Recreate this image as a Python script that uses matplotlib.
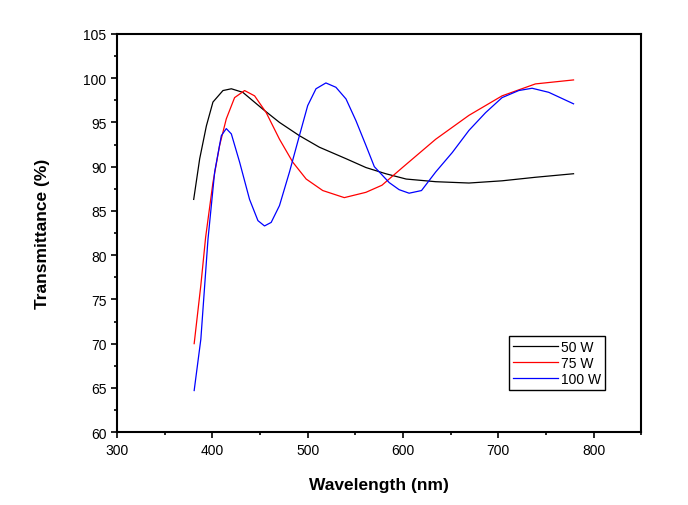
import matplotlib
matplotlib.use("Agg")
import matplotlib.pyplot as plt
from matplotlib.ticker import MultipleLocator

plt.rcParams['font.family'] = ['Liberation Sans', 'DejaVu Sans']

wl_50 = [380.5, 386.8, 393.8, 400.7, 411.2, 420, 432, 453, 470.5, 491.4, 512.3, 540.3, 561.2, 582, 603.4, 634.4, 669.3, 704, 739, 779]
tr_50 = [86.3, 90.9, 94.6, 97.3, 98.6, 98.8, 98.4, 96.5, 95.0, 93.5, 92.2, 90.9, 89.9, 89.2, 88.6, 88.3, 88.15, 88.4, 88.8, 89.2]

wl_75 = [381, 388, 393, 400.7, 407.7, 414.7, 423.4, 433.9, 444.4, 456.6, 470.5, 484.5, 498.5, 515.9, 538.5, 561.2, 578, 599.5, 634.4, 669.3, 704, 739, 779]
tr_75 = [70.0, 76.6, 82.0, 88.2, 92.4, 95.4, 97.8, 98.6, 98.0, 96.1, 93.1, 90.5, 88.6, 87.3, 86.5, 87.1, 87.9, 89.9, 93.1, 95.8, 98.0, 99.35, 99.8]

wl_100 = [381, 388, 395.5, 402.5, 409.5, 414.7, 420, 428.7, 439.1, 447.9, 454.8, 461.8, 470.5, 481, 491.4, 500.1, 508.8, 519.2, 529.7, 540.3, 550.7, 561.2, 570, 585.6, 596, 606.5, 619.5, 634.4, 651.8, 669.3, 686.7, 704, 721.5, 735.5, 753, 779]
tr_100 = [64.7, 70.5, 81.8, 89.4, 93.5, 94.3, 93.7, 90.5, 86.3, 83.9, 83.3, 83.7, 85.6, 89.4, 93.5, 96.9, 98.8, 99.46, 98.97, 97.65, 95.2, 92.4, 90.0, 88.2, 87.4, 87.0, 87.3, 89.4, 91.6, 94.1, 96.1, 97.8, 98.6, 98.86, 98.4, 97.1]

labels = ['50 W', '75 W', '100 W']
colors = ['black', 'red', 'blue']

fig = plt.figure(figsize=(6.88, 5.06), dpi=100)
ax = fig.add_axes([0.170, 0.144, 0.762, 0.787])

for wl, tr, lab, c in zip([wl_50, wl_75, wl_100], [tr_50, tr_75, tr_100], labels, colors):
    ax.plot(wl, tr, color=c, lw=0.9, label=lab)

ax.set_xlim(300, 850)
ax.set_ylim(60, 105)
ax.xaxis.set_major_locator(MultipleLocator(100))
ax.xaxis.set_minor_locator(MultipleLocator(50))
ax.yaxis.set_major_locator(MultipleLocator(5))
ax.yaxis.set_minor_locator(MultipleLocator(2.5))
ax.tick_params(which='major', direction='out', length=4, width=1.2, labelsize=10, top=False, right=False)
ax.tick_params(which='minor', direction='out', length=2.5, width=1.2, top=False, right=False)
for s in ax.spines.values():
    s.set_linewidth(1.5)

ax.set_xlabel('Wavelength (nm)', fontsize=12.5, fontweight='bold', labelpad=15)
ax.set_ylabel('Transmittance (%)', fontsize=12.5, fontweight='bold', labelpad=24)

leg = ax.legend(loc='upper left', bbox_to_anchor=(0.748, 0.241), borderaxespad=0, fontsize=10,
                frameon=True, fancybox=False, edgecolor='black', framealpha=1,
                handlelength=3.2, borderpad=0.3, labelspacing=0.12, handletextpad=0.25)
leg.get_frame().set_linewidth(1.0)

fig.savefig('out.png', dpi=100)
